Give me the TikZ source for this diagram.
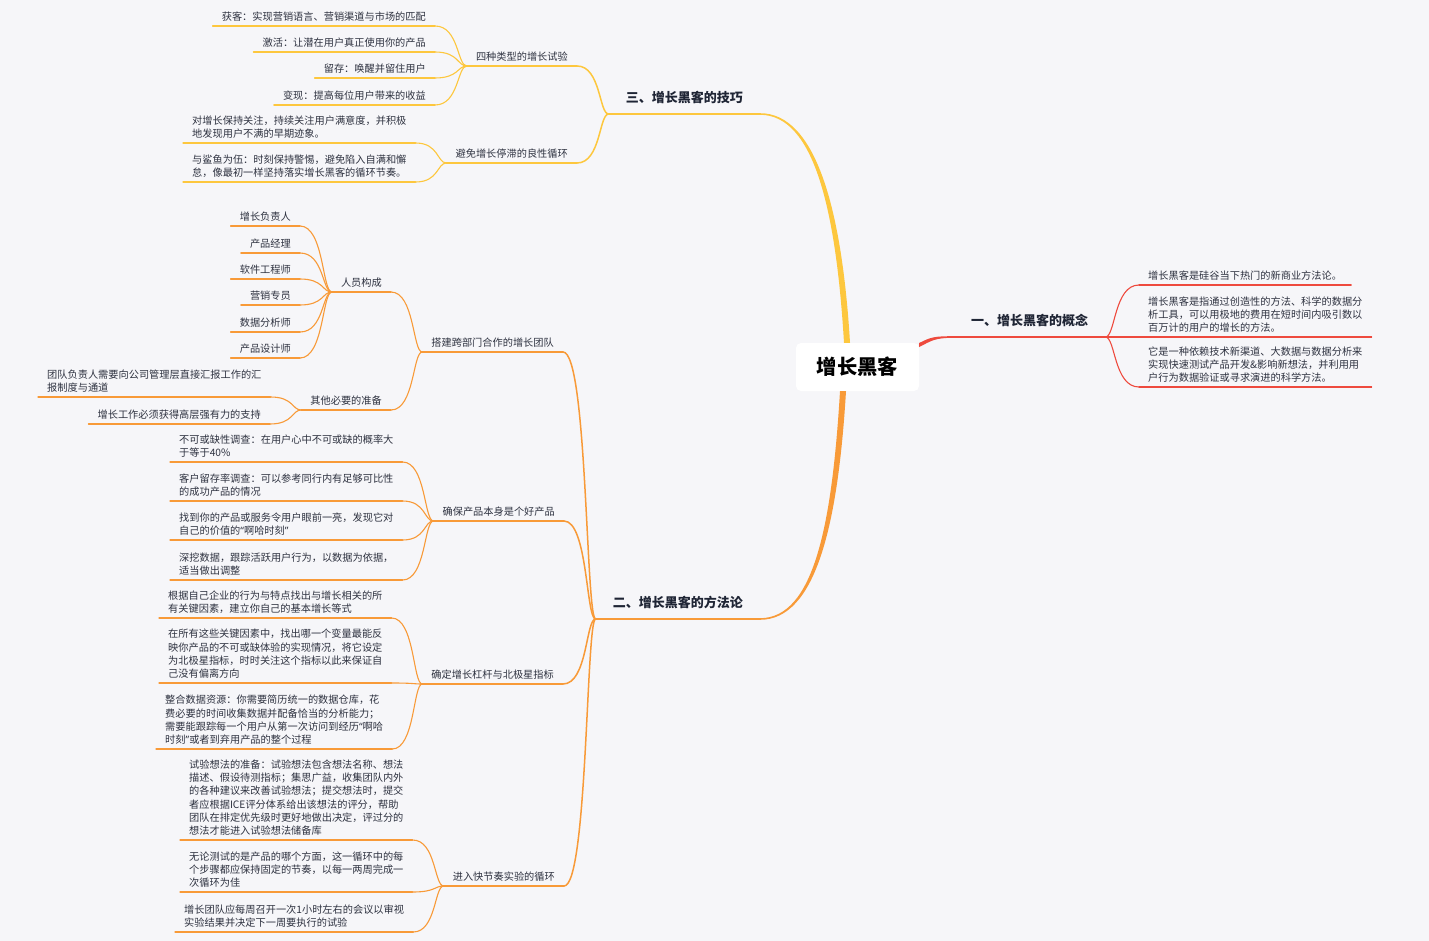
\documentclass[tikz,border=0pt]{standalone}
\usepackage{fontspec}
\setmainfont{Noto Sans CJK SC}
\newfontfamily\qfont{Noto Sans}
\newcommand\myoq{{\qfont“}}
\newcommand\mycq{{\qfont”}}
\usetikzlibrary{calc}
\definecolor{bgc}{HTML}{F6F6F9}
\definecolor{yel}{HTML}{FDC73E}
\definecolor{ora}{HTML}{F89A38}
\definecolor{redc}{HTML}{EE4A3E}
\definecolor{txtc}{HTML}{2E3240}
\definecolor{ttlc}{HTML}{1F2535}
\begin{document}
\begin{tikzpicture}[x=1pt,y=-1pt,
  leaf/.style={font=\fontsize{10.2}{13.2}\selectfont, text=txtc, align=left, inner xsep=9pt, inner ysep=1.4pt, execute at begin node=\strut, execute at end node=\strut},
  ttl/.style={font=\fontsize{13}{16}\selectfont\bfseries, text=ttlc, inner xsep=17pt, inner ysep=6.6pt, execute at begin node=\strut},
  wire/.style={line width=1.1pt, line cap=round},
  midwire/.style={line width=1.5pt, line cap=round},
  conn/.style={to path={.. controls ($(\tikztostart)!0.3!(\tikztostart -| \tikztotarget)$) and ($(\tikztotarget)!0.75!(\tikztotarget -| \tikztostart)$) .. (\tikztotarget)}}
]
\fill[bgc] (0,0) rectangle (1429,941);

% centre
\node[fill=white, rounded corners=5pt, minimum width=123pt, minimum height=48pt, inner sep=0pt,
  font=\fontsize{20.3}{24}\selectfont\bfseries, text=black] (c) at (857.5,367) {增长黑客};

% titles
\node[ttl, anchor=south east] (t3) at (760,114) {三、增长黑客的技巧};
\node[ttl, anchor=south east] (t2) at (760,619) {二、增长黑客的方法论};
\node[ttl, anchor=south west] (t1) at (954,337) {一、增长黑客的概念};

% section three
\node[leaf, anchor=south east] (n3a) at (577,66) {四种类型的增长试验};
\node[leaf, anchor=south east] (n3a1) at (435,26) {获客：实现营销语言、营销渠道与市场的匹配};
\node[leaf, anchor=south east] (n3a2) at (435,52) {激活：让潜在用户真正使用你的产品};
\node[leaf, anchor=south east] (n3a3) at (435,78) {留存：唤醒并留住用户};
\node[leaf, anchor=south east] (n3a4) at (435,105) {变现：提高每位用户带来的收益};
\node[leaf, anchor=south east] (n3b) at (577,163) {避免增长停滞的良性循环};
\node[leaf, anchor=south west] (n3b1) at (183,143) {对增长保持关注，持续关注用户满意度，并积极\\地发现用户不满的早期迹象。};
\node[leaf, anchor=south west] (n3b2) at (183,182) {与鲨鱼为伍：时刻保持警惕，避免陷入自满和懈\\怠，像最初一样坚持落实增长黑客的循环节奏。};

% section two
\node[leaf, anchor=south east] (n2a) at (563,352) {搭建跨部门合作的增长团队};
\node[leaf, anchor=south east] (n2a1) at (391,292) {人员构成};
\node[leaf, anchor=south east] (p1) at (300,226) {增长负责人};
\node[leaf, anchor=south east] (p2) at (300,253) {产品经理};
\node[leaf, anchor=south east] (p3) at (300,279) {软件工程师};
\node[leaf, anchor=south east] (p4) at (300,305) {营销专员};
\node[leaf, anchor=south east] (p5) at (300,332) {数据分析师};
\node[leaf, anchor=south east] (p6) at (300,358) {产品设计师};
\node[leaf, anchor=south east] (n2a2) at (391,410) {其他必要的准备};
\node[leaf, anchor=south west] (q1) at (38,397) {团队负责人需要向公司管理层直接汇报工作的汇\\报制度与通道};
\node[leaf, anchor=south east] (q2) at (270,424) {增长工作必须获得高层强有力的支持};

\node[leaf, anchor=south east] (n2b) at (564,521) {确保产品本身是个好产品};
\node[leaf, anchor=south west] (r1) at (170,462) {不可或缺性调查：在用户心中不可或缺的概率大\\于等于40\%};
\node[leaf, anchor=south west] (r2) at (170,501) {客户留存率调查：可以参考同行内有足够可比性\\的成功产品的情况};
\node[leaf, anchor=south west] (r3) at (170,540) {找到你的产品或服务令用户眼前一亮，发现它对\\自己的价值的\myoq 啊哈时刻\mycq};
\node[leaf, anchor=south west] (r4) at (170,580) {深挖数据，跟踪活跃用户行为，以数据为依据，\\适当做出调整};

\node[leaf, anchor=south east] (n2c) at (563,684) {确定增长杠杆与北极星指标};
\node[leaf, anchor=south west] (s1) at (159,618) {根据自己企业的行为与特点找出与增长相关的所\\有关键因素，建立你自己的基本增长等式};
\node[leaf, anchor=south west] (s2) at (159,683) {在所有这些关键因素中，找出哪一个变量最能反\\映你产品的不可或缺体验的实现情况，将它设定\\为北极星指标，时时关注这个指标以此来保证自\\己没有偏离方向};
\node[leaf, anchor=south west] (s3) at (156,749) {整合数据资源：你需要简历统一的数据仓库，花\\费必要的时间收集数据并配备恰当的分析能力；\\需要能跟踪每一个用户从第一次访问到经历\myoq 啊哈\\时刻\mycq 或者到弃用产品的整个过程};

\node[leaf, anchor=south east] (n2d) at (564,886) {进入快节奏实验的循环};
\node[leaf, anchor=south west] (u1) at (180,840) {试验想法的准备：试验想法包含想法名称、想法\\描述、假设待测指标；集思广益，收集团队内外\\的各种建议来改善试验想法；提交想法时，提交\\者应根据ICE评分体系给出该想法的评分，帮助\\团队在排定优先级时更好地做出决定，评过分的\\想法才能进入试验想法储备库};
\node[leaf, anchor=south west] (u2) at (180,892) {无论测试的是产品的哪个方面，这一循环中的每\\个步骤都应保持固定的节奏，以每一两周完成一\\次循环为佳};
\node[leaf, anchor=south west] (u3) at (175,932) {增长团队应每周召开一次1小时左右的会议以审视\\实验结果并决定下一周要执行的试验};

% section one
\node[leaf, anchor=south west] (v1) at (1139,285) {增长黑客是硅谷当下热门的新商业方法论。};
\node[leaf, anchor=south west] (v2) at (1139,337) {增长黑客是指通过创造性的方法、科学的数据分\\析工具，可以用极地的费用在短时间内吸引数以\\百万计的用户的增长的方法。};
\node[leaf, anchor=south west] (v3) at (1139,387) {它是一种依赖技术新渠道、大数据与数据分析来\\实现快速测试产品开发\&影响新想法，并利用用\\户行为数据验证或寻求演进的科学方法。};

% thick main branches
\fill[yel] ($(c.north)+(-13.5,0)$) .. controls +(-8,-133) and +(54,0) .. ($(t3.south east)+(0,0.8)$)
  -- ($(t3.south east)+(0,-0.8)$) .. controls +(56,0) and +(-8,-133) .. ($(c.north)+(-7.5,0)$) -- cycle;
\fill[ora] ($(c.south)+(-17.5,0)$) .. controls +(-8,133) and +(54,0) .. ($(t2.south east)+(0,-0.8)$)
  -- ($(t2.south east)+(0,0.8)$) .. controls +(56,0) and +(-8,133) .. ($(c.south)+(-11.5,0)$) -- cycle;
\fill[redc] ($(c.east)+(0,-24)$) .. controls +(12,-6) and +(-20,0) .. ($(t1.south west)+(0,-0.8)$)
  -- ($(t1.south west)+(0,0.8)$) .. controls +(-20,0) and +(12,-6) .. ($(c.east)+(0,-20)$) -- cycle;

% title underlines
\draw[yel, line width=1.6pt] (t3.south west) -- (t3.south east);
\draw[ora, line width=1.6pt] (t2.south west) -- (t2.south east);
\draw[redc, line width=1.6pt] (t1.south west) -- (t1.south east);

% yellow connectors
\foreach \b in {n3a,n3b} \draw[yel, midwire] (t3.south west) to[conn] (\b.south east);
\foreach \a/\b in {n3a/n3a1,n3a/n3a2,n3a/n3a3,n3a/n3a4,n3b/n3b1,n3b/n3b2}
  \draw[yel, wire] (\a.south west) to[conn] (\b.south east);
\foreach \n in {n3a,n3b} \draw[yel, midwire] (\n.south west) -- (\n.south east);
\foreach \n in {n3a1,n3a2,n3a3,n3a4,n3b1,n3b2} \draw[yel, wire] (\n.south west) -- (\n.south east);

% orange connectors
\foreach \b in {n2a,n2b,n2c,n2d} \draw[ora, midwire] (t2.south west) to[conn] (\b.south east);
\foreach \a/\b in {n2a/n2a1,n2a/n2a2,n2a1/p1,n2a1/p2,n2a1/p3,n2a1/p4,n2a1/p5,n2a1/p6,n2a2/q1,n2a2/q2,
  n2b/r1,n2b/r2,n2b/r3,n2b/r4,n2c/s1,n2c/s2,n2c/s3,n2d/u1,n2d/u2,n2d/u3}
  \draw[ora, wire] (\a.south west) to[conn] (\b.south east);
\foreach \n in {n2a,n2b,n2c,n2d} \draw[ora, midwire] (\n.south west) -- (\n.south east);
\foreach \n in {n2a1,n2a2,p1,p2,p3,p4,p5,p6,q1,q2,r1,r2,r3,r4,s1,s2,s3,u1,u2,u3}
  \draw[ora, wire] (\n.south west) -- (\n.south east);

% red connectors
\foreach \b in {v1,v2,v3} \draw[redc, wire] (t1.south east) to[conn] (\b.south west);
\foreach \n in {v1,v2,v3} \draw[redc, wire] (\n.south west) -- (\n.south east);
\end{tikzpicture}
\end{document}
